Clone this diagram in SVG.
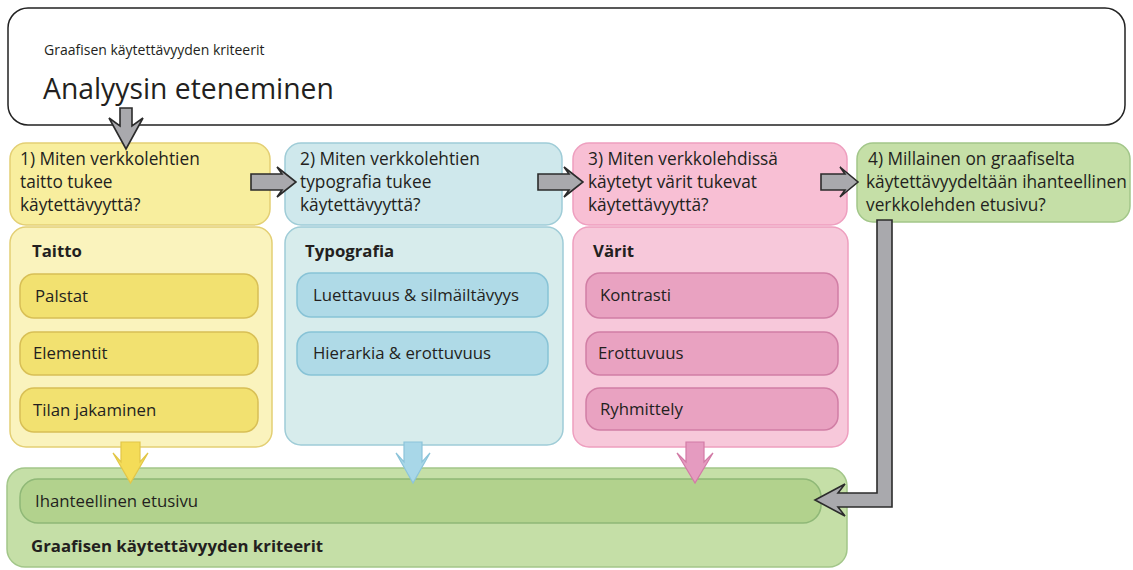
<svg xmlns="http://www.w3.org/2000/svg" width="1133" height="570" viewBox="0 0 1133 570">
<style>
text{font-family:"Open Sans","Liberation Sans",sans-serif;fill:#231f20}
.q{font-size:17.3px}
.it{font-size:16.8px}
.h{font-size:16.8px;font-weight:bold}
.yh{fill:#f8ee9e;stroke:#e3cf74;stroke-width:1.5}
.yb{fill:#faf3bd;stroke:#e3cf74;stroke-width:1.5}
.yi{fill:#f2e170;stroke:#d8bf55;stroke-width:1.5}
.bh{fill:#cfe8ec;stroke:#9fccd7;stroke-width:1.5}
.bb{fill:#d7ecec;stroke:#9fccd7;stroke-width:1.5}
.bi{fill:#afdae7;stroke:#88c3d6;stroke-width:1.5}
.ph{fill:#f8bfd4;stroke:#ee9fbf;stroke-width:1.5}
.pb{fill:#f7c8da;stroke:#ee9fbf;stroke-width:1.5}
.pi{fill:#e9a2c1;stroke:#d17ea5;stroke-width:1.5}
.gh{fill:#c5dfa7;stroke:#a2c689;stroke-width:1.5}
.gi{fill:#b2d28d;stroke:#8fb877;stroke-width:1.5}
.ga{fill:#a9a9ad;stroke:#2b2b2b;stroke-width:1.6;stroke-linejoin:miter}
.ya{fill:#f4dc58;stroke:#e2c648;stroke-width:1.2}
.ba{fill:#a8d7e8;stroke:#8cc4da;stroke-width:1.2}
.pa{fill:#e59bc0;stroke:#d27ba6;stroke-width:1.2}
</style>
<rect width="1133" height="570" fill="#ffffff"/>
<g id="top">
<rect x="8" y="8" width="1117" height="117" rx="20" fill="#fff" stroke="#222" stroke-width="1.5"/>
<text x="44" y="55" style="font-size:14px">Graafisen käytettävyyden kriteerit</text>
<text x="43" y="99" style="font-size:28.3px">Analyysin eteneminen</text>
</g>
<g id="q1">
<rect class="yh" x="10" y="143" width="260" height="82" rx="16"/>
<text class="q" x="20" y="165">1) Miten verkkolehtien</text>
<text class="q" x="20" y="188">taitto tukee</text>
<text class="q" x="20" y="211">käytettävyyttä?</text>
</g>
<g id="taitto">
<rect class="yb" x="10" y="227" width="262" height="220" rx="16"/>
<text class="h" x="32" y="257">Taitto</text>
<rect class="yi" x="20" y="274" width="238" height="44" rx="14"/>
<text class="it" x="35" y="302">Palstat</text>
<rect class="yi" x="20" y="332" width="238" height="43" rx="14"/>
<text class="it" x="33" y="359">Elementit</text>
<rect class="yi" x="20" y="388" width="238" height="44" rx="14"/>
<text class="it" x="33" y="416">Tilan jakaminen</text>
</g>
<g id="q2">
<rect class="bh" x="285" y="143" width="277" height="82" rx="16"/>
<text class="q" x="300" y="165">2) Miten verkkolehtien</text>
<text class="q" x="300" y="188">typografia tukee</text>
<text class="q" x="300" y="211">käytettävyyttä?</text>
</g>
<g id="typografia">
<rect class="bb" x="285" y="227" width="278" height="218" rx="16"/>
<text class="h" x="305" y="257">Typografia</text>
<rect class="bi" x="297" y="273" width="251" height="44" rx="14"/>
<text class="it" x="313" y="301">Luettavuus &amp; silmäiltävyys</text>
<rect class="bi" x="297" y="332" width="251" height="43" rx="14"/>
<text class="it" x="313" y="359">Hierarkia &amp; erottuvuus</text>
</g>
<g id="q3">
<rect class="ph" x="573" y="143" width="274" height="82" rx="16"/>
<text class="q" x="588" y="165">3) Miten verkkolehdissä</text>
<text class="q" x="588" y="188">käytetyt värit tukevat</text>
<text class="q" x="588" y="211">käytettävyyttä?</text>
</g>
<g id="varit">
<rect class="pb" x="573" y="227" width="275" height="220" rx="16"/>
<text class="h" x="593" y="257">Värit</text>
<rect class="pi" x="586" y="273" width="252" height="45" rx="14"/>
<text class="it" x="600" y="301">Kontrasti</text>
<rect class="pi" x="586" y="332" width="252" height="43" rx="14"/>
<text class="it" x="598" y="359">Erottuvuus</text>
<rect class="pi" x="586" y="388" width="252" height="42" rx="14"/>
<text class="it" x="600" y="415">Ryhmittely</text>
</g>
<g id="q4">
<rect class="gh" x="857" y="143" width="273" height="79" rx="16"/>
<text class="q" x="868" y="165">4) Millainen on graafiselta</text>
<text class="q" x="866" y="188">käytettävyydeltään ihanteellinen</text>
<text class="q" x="866" y="211">verkkolehden etusivu?</text>
</g>
<g id="kriteerit">
<rect class="gh" x="7" y="468" width="840" height="99" rx="18"/>
<rect class="gi" x="20" y="479" width="801" height="44" rx="18"/>
<text class="it" x="35" y="507">Ihanteellinen etusivu</text>
<text class="h" x="31" y="552">Graafisen käytettävyyden kriteerit</text>
</g>
<g id="connectors">
<polygon class="ga" points="120,108 132,108 132,126 143,118 126,149 109,118 120,126"/>
<polygon class="ga" points="251,174 282,174 277,167 296,182 277,197 282,190 251,190"/>
<polygon class="ga" points="538,174 569,174 564,167 583,182 564,197 569,190 538,190"/>
<polygon class="ga" points="821,174 845,174 840,167 858,182 840,197 845,190 821,190"/>
<polygon class="ga" points="877,220 892,220 892,507 838,507 845,516 815,500 845,484 838,493 877,493"/>
<polygon class="ya" points="121,442 140,442 140,462 148,453 130.5,483 113,453 121,462"/>
<polygon class="ba" points="404,442 422,442 422,462 430,453 413,483 396,453 404,462"/>
<polygon class="pa" points="686,442 704,442 704,462 713,453 695,483 677,453 686,462"/>
</g>
</svg>
